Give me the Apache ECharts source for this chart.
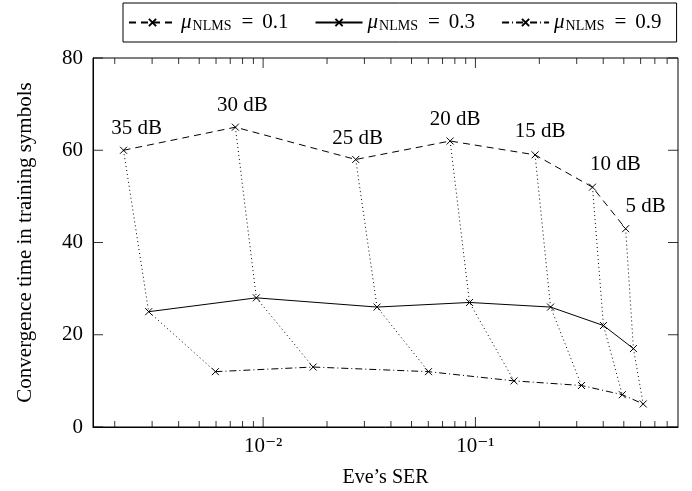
<!DOCTYPE html>
<html lang="en">
<head>
<meta charset="UTF-8">
<title>Convergence time vs Eve's SER</title>
<style>
  html, body { margin: 0; padding: 0; background: #fff; }
  #chart-container { width: 692px; height: 491px; }
</style>
</head>
<body>
<div id="chart-container"></div>
<script src="https://cdn.jsdelivr.net/npm/echarts@6/dist/echarts.min.js"></script>
<script>
  // SNR at each measured point (left to right)
  const snrLabels = ['35 dB', '30 dB', '25 dB', '20 dB', '15 dB', '10 dB', '5 dB'];

  // Eve's SER (x) and convergence time (y), one pair of arrays per step size
  const serMu01 = [0.0022, 0.0074, 0.0273, 0.076, 0.191, 0.356, 0.51];
  const timeMu01 = [60, 65, 58, 62, 59, 52, 43];
  const serMu03 = [0.00289, 0.00929, 0.0344, 0.0938, 0.226, 0.401, 0.555];
  const timeMu03 = [25, 28, 26, 27, 26, 22, 17];
  const serMu09 = [0.00596, 0.0172, 0.0601, 0.152, 0.316, 0.492, 0.617];
  const timeMu09 = [12, 13, 12, 10, 9, 7, 5];

  const muValues = ['0.1', '0.3', '0.9'];

  // tick marks
  const xMajorTicks = [0.01, 0.1];
  const xMajorLabels = ['10\u207b\u00b2', '10\u207b\u00b9'];
  const xMinorTicks = [0.002, 0.003, 0.004, 0.005, 0.006, 0.007, 0.008, 0.009,
    0.02, 0.03, 0.04, 0.05, 0.06, 0.07, 0.08, 0.09,
    0.2, 0.3, 0.4, 0.5, 0.6, 0.7, 0.8];
  const yTicks = [0, 20, 40, 60, 80];

  // nudges for the dB labels (px, relative to the marker)
  const labelNudge = [[13, -22], [7, -22], [2, -21], [5, -22], [5, -23], [23, -23], [20, -22]];

  var FONT = "'Liberation Serif', 'DejaVu Serif', serif";
  var XMIN = 0.00158, XMAX = 0.9;
  var YMIN = yTicks[0], YMAX = yTicks[yTicks.length - 1];
  var cross = 'path://M0,0L10,10M10,0L0,10';

  var dom = document.getElementById('chart-container');
  var myChart = echarts.init(dom);

  function pairs(xs, ys) {
    return xs.map(function (x, i) { return [x, ys[i]]; });
  }

  // inward tick marks on all four sides, placed through the axes as short bars
  function tickSeries(points, size, offset) {
    return {
      type: 'scatter',
      data: points,
      symbol: 'rect',
      symbolSize: size,
      symbolOffset: offset,
      clip: false,
      silent: true,
      z: 4,
      itemStyle: { color: '#000' }
    };
  }
  var tickMarks = [
    tickSeries(xMajorTicks.map(function (x) { return [x, YMIN]; }), [1, 10], [0, -5]),
    tickSeries(xMajorTicks.map(function (x) { return [x, YMAX]; }), [1, 10], [0, 5]),
    tickSeries(xMinorTicks.map(function (x) { return [x, YMIN]; }), [1, 6], [0, -3]),
    tickSeries(xMinorTicks.map(function (x) { return [x, YMAX]; }), [1, 6], [0, 3]),
    tickSeries(yTicks.map(function (y) { return [XMIN, y]; }), [10, 1], [5, 0]),
    tickSeries(yTicks.map(function (y) { return [XMAX, y]; }), [10, 1], [-5, 0])
  ];

  // dotted links joining the three points measured at the same SNR
  var linkSeries = snrLabels.map(function (snr, i) {
    return {
      type: 'line',
      name: 'link ' + snr,
      data: [[serMu01[i], timeMu01[i]], [serMu03[i], timeMu03[i]], [serMu09[i], timeMu09[i]]],
      symbol: 'none',
      silent: true,
      lineStyle: { color: '#000', width: 1, type: [1, 3] }
    };
  });

  var dashTypes = [[7, 5], 'solid', [7, 3, 1, 3]];
  var mainData = [
    pairs(serMu01, timeMu01),
    pairs(serMu03, timeMu03),
    pairs(serMu09, timeMu09)
  ];

  var mainSeries = muValues.map(function (mu, k) {
    var data = mainData[k];
    if (k === 0) {
      data = data.map(function (p, i) {
        return { value: p, label: { offset: labelNudge[i] } };
      });
    }
    return {
      type: 'line',
      name: mu,
      data: data,
      symbol: cross,
      symbolSize: 7,
      showAllSymbol: true,
      itemStyle: { color: '#000', borderColor: '#000', borderWidth: 1 },
      lineStyle: { color: '#000', width: 1, type: dashTypes[k] },
      label: {
        show: k === 0,
        position: 'inside',
        fontFamily: FONT,
        fontSize: 21,
        color: '#000',
        formatter: function (p) { return snrLabels[p.dataIndex]; }
      }
    };
  });

  var option = {
    animation: false,
    grid: {
      left: 93, right: 14, top: 58, bottom: 64,
      outerBoundsMode: 'none',
      show: true, borderColor: '#000', borderWidth: 1
    },
    legend: {
      data: muValues,
      left: 123,
      top: 3,
      padding: [9, 15, 9, 5],
      itemGap: 26,
      itemWidth: 47,
      itemHeight: 9,
      borderColor: '#000',
      borderWidth: 1,
      borderRadius: 0,
      formatter: function (name) {
        return '{m|\u03bc}{n|NLMS}{e|=}{v|' + name + '}';
      },
      textStyle: {
        color: '#000',
        rich: {
          m: { fontFamily: FONT, fontSize: 21, fontStyle: 'italic', color: '#000', padding: [0, 1, 0, 0] },
          n: { fontFamily: FONT, fontSize: 14, color: '#000', padding: [7, 10, 0, 0] },
          e: { fontFamily: FONT, fontSize: 21, color: '#000', padding: [0, 9, 0, 0] },
          v: { fontFamily: FONT, fontSize: 21, color: '#000' }
        }
      }
    },
    xAxis: {
      type: 'log',
      min: XMIN,
      max: XMAX,
      name: 'Eve\u2019s SER',
      nameLocation: 'middle',
      nameGap: 41,
      nameTextStyle: { fontFamily: FONT, fontSize: 20, color: '#000' },
      axisLine: { show: true, onZero: false, lineStyle: { color: '#000', width: 1 } },
      axisTick: { show: false },
      axisLabel: {
        customValues: xMajorTicks,
        margin: 9,
        fontFamily: FONT,
        fontSize: 21,
        color: '#000',
        formatter: function (v) {
          var i = xMajorTicks.findIndex(function (t) { return Math.abs(t - v) < t * 1e-6; });
          return i < 0 ? '' : xMajorLabels[i];
        }
      },
      splitLine: { show: false },
      minorTick: { show: false }
    },
    yAxis: {
      type: 'value',
      min: YMIN,
      max: YMAX,
      interval: yTicks[1] - yTicks[0],
      name: 'Convergence time in training symbols',
      nameLocation: 'middle',
      nameGap: 57,
      nameTextStyle: { fontFamily: FONT, fontSize: 21, color: '#000' },
      axisLine: { show: true, lineStyle: { color: '#000', width: 1 } },
      axisTick: { show: false },
      axisLabel: { margin: 10, fontFamily: FONT, fontSize: 21, color: '#000' },
      splitLine: { show: false }
    },
    series: linkSeries.concat(mainSeries, tickMarks)
  };

  myChart.setOption(option);
  window.addEventListener('resize', myChart.resize);
</script>
</body>
</html>
